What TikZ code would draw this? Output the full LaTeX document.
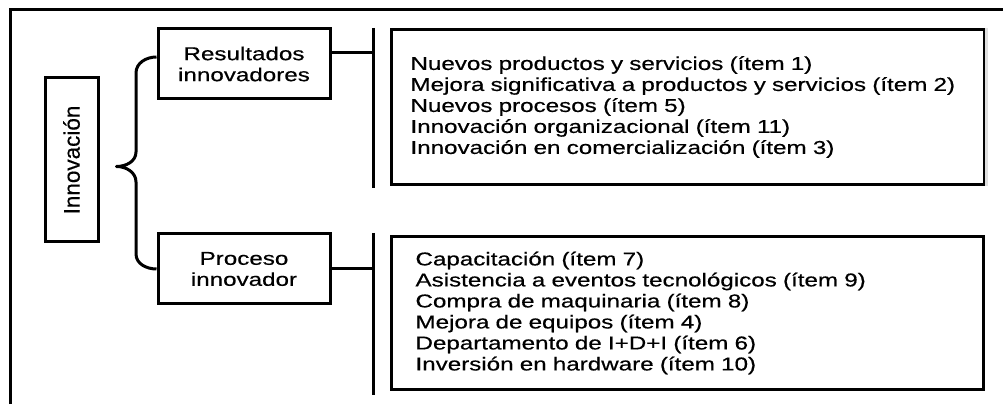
\documentclass[tikz,border=0pt]{standalone}
\usepackage{fontspec}
\setmainfont[FakeBold=0.4]{Liberation Sans}
\newfontfamily\widefont[FakeStretch=1.3, FakeBold=0.5]{Liberation Sans}
\usetikzlibrary{positioning, calc}

\begin{document}
\begin{tikzpicture}[
    x=1pt, y=1pt,
    line width=3pt,
    mainblock/.style={
        rectangle,
        draw,
        rotate=90,
        minimum width=164pt,
        minimum height=53pt,
        font=\fontsize{22.5}{26}\selectfont
    },
    catblock/.style={
        rectangle,
        draw,
        align=center,
        minimum width=172pt,
        minimum height=70pt,
        font=\widefont\fontsize{18.6}{21}\selectfont
    },
    listblock/.style={
        rectangle,
        draw,
        align=left,
        inner xsep=19pt,
        text width=555pt,
        font=\widefont\fontsize{18.6}{21}\selectfont
    },
    link/.style={
        line width=3pt,
        line join=round
    }
]
\useasboundingbox (0,0) rectangle (1003,404);

% Frame
\draw (10,0) -- (10,394) -- (1003,394);

% Nodes
\node[mainblock] (inn) at (71.5,244) {Innovación};
\node[catblock] (res) at (244,340) {Resultados\\innovadores};
\node[catblock, below=132pt of res] (pro) {Proceso\\innovador};
\node[listblock, minimum height=155pt, anchor=north west] (reslist) at (390,376)
    {Nuevos productos y servicios (ítem 1)\\
     Mejora significativa a productos y servicios (ítem 2)\\
     Nuevos procesos (ítem 5)\\
     Innovación organizacional (ítem 11)\\
     Innovación en comercialización (ítem 3)};
\node[listblock, minimum height=153pt, inner xsep=24pt, text width=544pt, anchor=north west] (prolist) at (390,169)
    {Capacitación (ítem 7)\\
     Asistencia a eventos tecnológicos (ítem 9)\\
     Compra de maquinaria (ítem 8)\\
     Mejora de equipos (ítem 4)\\
     Departamento de I+D+I (ítem 6)\\
     Inversión en hardware (ítem 10)};
\draw[gray!25] (reslist.north east) -- (reslist.south east);

% Brace
\coordinate (tip) at ($($(res.west)!0.5!(pro.west)$)+(-40,0)$);
\draw[link] ([yshift=7pt]res.west) to[out=180,in=90] (136,331) -- (136,252)
    to[out=-90,in=0] (tip) to[out=0,in=90] (136,222) -- (136,150)
    to[out=-90,in=180] (pro.west);

% Bars
\coordinate (resbar) at (373,351);
\coordinate (probar) at (373,135);
\draw[link] (resbar |- reslist.north) -- ([yshift=-2pt]resbar |- reslist.south);
\draw[link] ([yshift=2pt]probar |- prolist.north) -- ([yshift=-4pt]probar |- prolist.south);
\draw[link] ([yshift=11pt]res.east) -- (resbar);
\draw[link] (pro.east) -- (probar);

\end{tikzpicture}
\end{document}
